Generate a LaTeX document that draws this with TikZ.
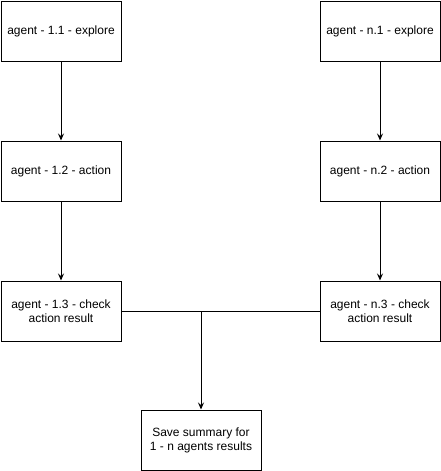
\documentclass[tikz,border=0pt]{standalone}
\usepackage{fontspec}
\setmainfont{Liberation Sans}
\usetikzlibrary{arrows.meta}
\begin{document}
\begin{tikzpicture}[x=1pt,y=-1pt,
  box/.style={draw=black,line width=1pt,minimum width=120pt,minimum height=60pt,align=center,font=\fontsize{12}{14}\selectfont,inner sep=0pt},
  conn/.style={draw=black,line width=1pt},
  arr/.style={conn,-{Stealth[length=7pt,width=6pt,inset=2.5pt]}}]
\useasboundingbox (0,0) rectangle (441,471);
\node[box] (a1) at (61,31) {agent - 1.1 - explore};
\node[box] (a2) at (61,171) {agent - 1.2 - action};
\node[box] (a3) at (61,311) {agent - 1.3 - check\\action result};
\node[box] (n1) at (380,31) {agent - n.1 - explore};
\node[box] (n2) at (380,171) {agent - n.2 - action};
\node[box] (n3) at (380,311) {agent - n.3 - check\\action result};
\node[box] (s) at (201,440) {Save summary for\\1 - n agents results};
\coordinate (j) at (201,311);
\draw[arr] (a1) -- (a2);
\draw[arr] (a2) -- (a3);
\draw[arr] (n1) -- (n2);
\draw[arr] (n2) -- (n3);
\draw[conn] (a3.east) -- (j);
\draw[conn] (n3.west) -- (j);
\draw[arr] (j) -- (s);
\end{tikzpicture}
\end{document}
